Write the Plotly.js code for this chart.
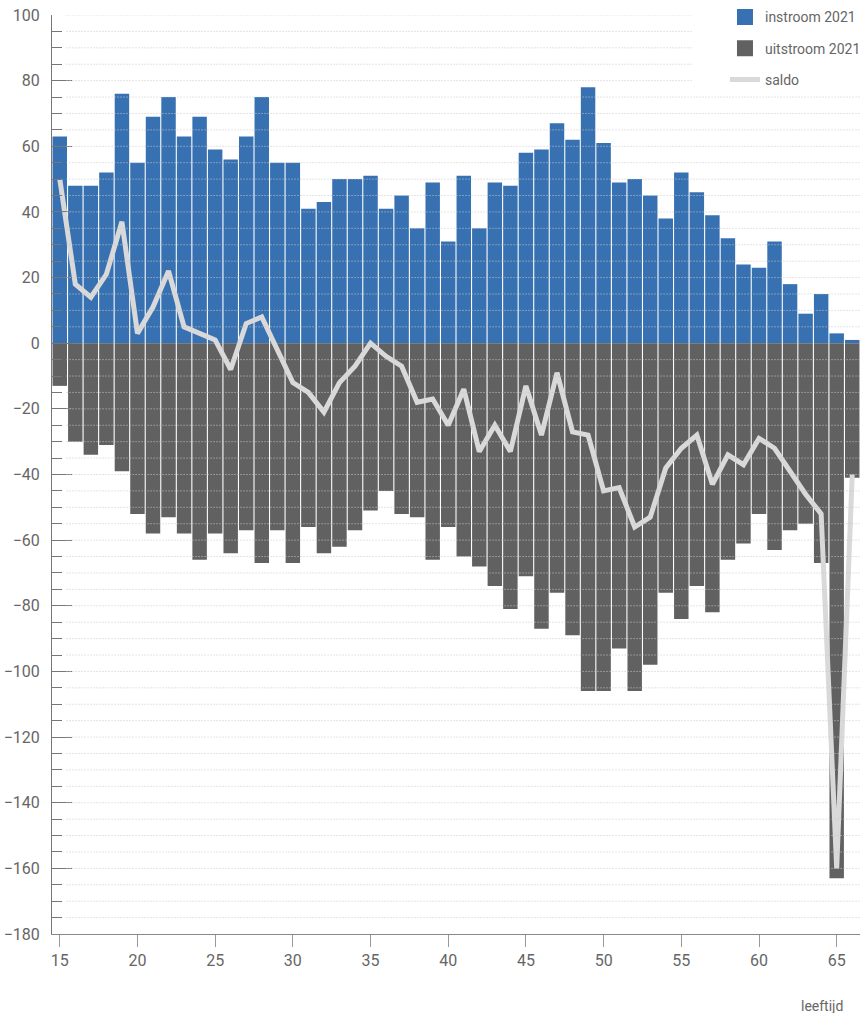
<!DOCTYPE html>
<html>
<head>
<meta charset="utf-8">
<script src="https://cdn.plot.ly/plotly-3.0.1.min.js"></script>
<style>html,body{margin:0;padding:0;background:#fff;}#chart{width:867px;height:1013px;}</style>
</head>
<body>
<div id="chart"></div>
<script>
var ages = [];
for (var a = 15; a <= 66; a++) ages.push(a);

var instroom = [63,48,48,52,76,55,69,75,63,69,59,56,63,75,55,55,41,43,50,50,51,41,45,35,49,31,51,35,49,48,58,59,67,62,78,61,49,50,45,38,52,46,39,32,24,23,31,18,9,15,3,1];
var uitstroom = [-13,-30,-34,-31,-39,-52,-58,-53,-58,-66,-58,-64,-57,-67,-57,-67,-56,-64,-62,-57,-51,-45,-52,-53,-66,-56,-65,-68,-74,-81,-71,-87,-76,-89,-106,-106,-93,-106,-98,-76,-84,-74,-82,-66,-61,-52,-63,-57,-55,-67,-163,-41];
var saldo = [50,18,14,21,37,3,11,22,5,3,1,-8,6,8,-2,-12,-15,-21,-12,-7,0,-4,-7,-18,-17,-25,-14,-33,-25,-33,-13,-28,-9,-27,-28,-45,-44,-56,-53,-38,-32,-28,-43,-34,-37,-29,-32,-39,-46,-52,-160,-40];

var xTicks = [15,20,25,30,35,40,45,50,55,60,65];
var seriesNames = ['instroom 2021','uitstroom 2021','saldo'];

var txt = '#666666';
var fontFam = 'Roboto, "Open Sans", sans-serif';
var blue = '#3771b1', grey = '#616161', light = '#d9d9d9';

var traces = [
  {type:'bar', x:ages, y:instroom, name:seriesNames[0], marker:{color:blue}, showlegend:false},
  {type:'bar', x:ages, y:uitstroom, name:seriesNames[1], marker:{color:grey}, showlegend:false},
  {type:'scatter', mode:'lines', x:ages, y:saldo, name:seriesNames[2], line:{color:light, width:5}, showlegend:false},
  // legend entries
  {type:'scatter', mode:'markers', x:[null], y:[null], name:seriesNames[0], legendgroup:'a',
    marker:{symbol:'square', size:16, color:blue}},
  {type:'scatter', mode:'markers', x:[null], y:[null], name:seriesNames[1], legendgroup:'b',
    marker:{symbol:'square', size:16, color:grey}},
  {type:'scatter', mode:'lines', x:[null], y:[null], name:seriesNames[2], legendgroup:'c',
    line:{color:light, width:5}}
];

var shapes = [];
for (var g = -175; g <= 100; g += 5) {
  if (g === 0) continue;
  shapes.push({type:'line', xref:'paper', yref:'y', x0:0.018, x1:(g >= 80 ? 0.793 : 1), y0:g, y1:g,
    line:{color:'#c8c8c8', width:1, dash:'1px,2px'}, layer:'above'});
}

var layout = {
  width:867, height:1013,
  margin:{l:52, r:7, t:15, b:79, autoexpand:false},
  paper_bgcolor:'#ffffff', plot_bgcolor:'#ffffff',
  font:{family:fontFam, color:txt, size:16},
  barmode:'relative',
  bargap:0.07,
  showlegend:true,
  legend:{x:1.0074, xanchor:'right', y:1.0148, yanchor:'top', bgcolor:'#ffffff',
    font:{family:fontFam, size:14, color:txt}, tracegroupgap:10, traceorder:'grouped', itemsizing:'trace'},
  xaxis:{range:[14.5,66.5], tickvals:xTicks, ticks:'outside', ticklen:12, tickcolor:'#999',
    showline:true, linecolor:'#888', linewidth:1, showgrid:false, zeroline:false,
    tickfont:{family:fontFam, size:16, color:txt}, fixedrange:true},
  yaxis:{range:[-180,100], dtick:20, ticks:'inside', ticklen:20, tickcolor:'#777', tickwidth:1,
    showline:true, linecolor:'#777', linewidth:1, showgrid:false, zeroline:false,
    layer:'above traces', ticklabelstandoff:8,
    minor:{dtick:5, ticks:'inside', ticklen:10, tickcolor:'#777', showgrid:false},
    tickfont:{family:fontFam, size:16, color:txt}, fixedrange:true},
  shapes:shapes,
  annotations:[{text:'leeftijd', xref:'paper', yref:'paper', x:0.981, y:-0.067, xanchor:'right', yanchor:'top',
    showarrow:false, font:{family:fontFam, size:14, color:txt}}]
};

Plotly.newPlot('chart', traces, layout, {displayModeBar:false, staticPlot:true});
</script>
</body>
</html>
